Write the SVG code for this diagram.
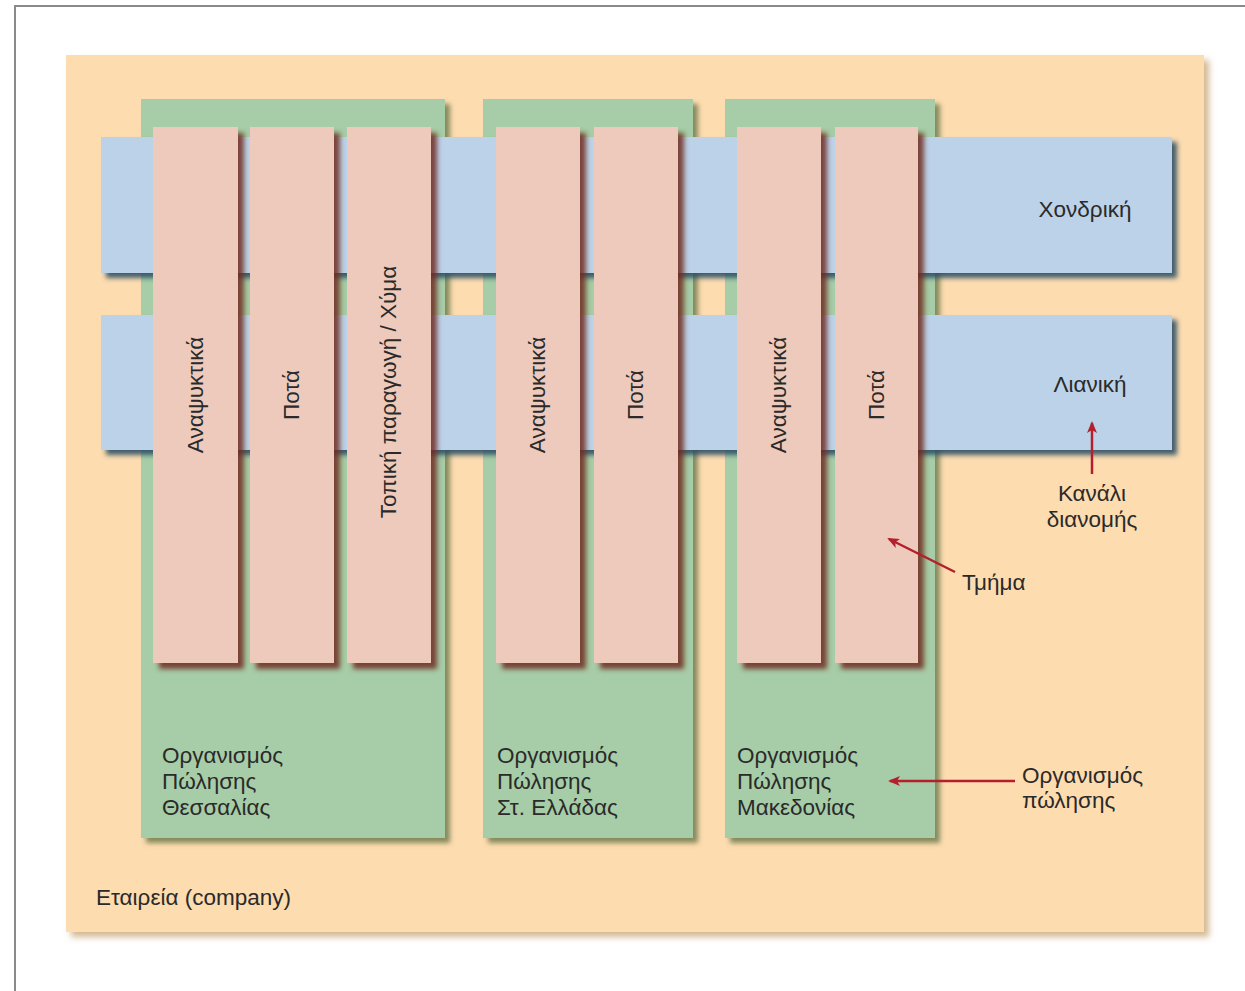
<svg xmlns="http://www.w3.org/2000/svg" width="1245" height="991" viewBox="0 0 1245 991">
  <defs>
    <filter id="shPeach" x="-5%" y="-5%" width="112%" height="112%">
      <feDropShadow dx="5" dy="5" stdDeviation="3" flood-color="#c9a778" flood-opacity="0.8"/>
    </filter>
    <filter id="shGreen" x="-10%" y="-5%" width="125%" height="112%">
      <feDropShadow dx="5" dy="5" stdDeviation="2.5" flood-color="#6f7a4e" flood-opacity="0.85"/>
    </filter>
    <filter id="shBlue" x="-5%" y="-10%" width="112%" height="125%">
      <feDropShadow dx="5" dy="5" stdDeviation="2.5" flood-color="#2f4f63" flood-opacity="0.9"/>
    </filter>
    <filter id="shPink" x="-15%" y="-5%" width="135%" height="112%">
      <feDropShadow dx="6" dy="6" stdDeviation="2.5" flood-color="#6e2a1e" flood-opacity="0.85"/>
    </filter>
    <marker id="arrow" viewBox="0 0 12 10" refX="10" refY="5" markerWidth="12" markerHeight="10" markerUnits="userSpaceOnUse" orient="auto">
      <path d="M0,0 L12,5 L0,10 L3,5 Z" fill="#b51f2c"/>
    </marker>
    <style>
      .txt { font-family: "Liberation Sans", "DejaVu Sans", sans-serif; font-size: 22.5px; fill: #2a2a2a; }
      .peach { fill: #fddcb0; }
      .green { fill: #a6cda7; }
      .blue { fill: #bcd2e8; }
      .pink { fill: #eecabc; }
      .conn { stroke: #b51f2c; stroke-width: 2.5; fill: none; marker-end: url(#arrow); }
    </style>
  </defs>

  <rect x="0" y="0" width="1245" height="991" fill="#ffffff"/>
  <!-- page frame -->
  <path d="M15,991 L15,6 L1245,6" fill="none" stroke="#8a8a8a" stroke-width="2"/>

  <g id="company">
    <rect class="peach" x="66" y="55" width="1138" height="877" filter="url(#shPeach)"/>
    <text class="txt" x="96" y="905">Εταιρεία (company)</text>
  </g>

  <g id="org-thessalia">
    <rect class="green" x="141" y="99" width="304" height="739" filter="url(#shGreen)"/>
    <text class="txt" x="162" y="763">Οργανισμός</text>
    <text class="txt" x="162" y="789">Πώλησης</text>
    <text class="txt" x="162" y="815">Θεσσαλίας</text>
  </g>
  <g id="org-sterea">
    <rect class="green" x="483" y="99" width="210" height="739" filter="url(#shGreen)"/>
    <text class="txt" x="497" y="763">Οργανισμός</text>
    <text class="txt" x="497" y="789">Πώλησης</text>
    <text class="txt" x="497" y="815">Στ. Ελλάδας</text>
  </g>
  <g id="org-makedonia">
    <rect class="green" x="725" y="99" width="210" height="739" filter="url(#shGreen)"/>
    <text class="txt" x="737" y="763">Οργανισμός</text>
    <text class="txt" x="737" y="789">Πώλησης</text>
    <text class="txt" x="737" y="815">Μακεδονίας</text>
  </g>

  <g id="channel-wholesale">
    <rect class="blue" x="101" y="137" width="1071" height="136" filter="url(#shBlue)"/>
    <text class="txt" x="1085" y="217" text-anchor="middle">Χονδρική</text>
  </g>
  <g id="channel-retail">
    <rect class="blue" x="101" y="315" width="1071" height="135" filter="url(#shBlue)"/>
    <text class="txt" x="1090" y="392" text-anchor="middle">Λιανική</text>
  </g>

  <g id="seg-t1">
    <rect class="pink" x="153" y="127" width="85" height="536" filter="url(#shPink)"/>
    <text class="txt" transform="translate(203,395) rotate(-90)" text-anchor="middle">Αναψυκτικά</text>
  </g>
  <g id="seg-t2">
    <rect class="pink" x="250" y="127" width="84" height="536" filter="url(#shPink)"/>
    <text class="txt" transform="translate(299,395) rotate(-90)" text-anchor="middle">Ποτά</text>
  </g>
  <g id="seg-t3">
    <rect class="pink" x="347" y="127" width="84" height="536" filter="url(#shPink)"/>
    <text class="txt" transform="translate(396,392) rotate(-90)" text-anchor="middle">Τοπική παραγωγή / Χύμα</text>
  </g>
  <g id="seg-s1">
    <rect class="pink" x="496" y="127" width="84" height="536" filter="url(#shPink)"/>
    <text class="txt" transform="translate(545,395) rotate(-90)" text-anchor="middle">Αναψυκτικά</text>
  </g>
  <g id="seg-s2">
    <rect class="pink" x="594" y="127" width="84" height="536" filter="url(#shPink)"/>
    <text class="txt" transform="translate(643,395) rotate(-90)" text-anchor="middle">Ποτά</text>
  </g>
  <g id="seg-m1">
    <rect class="pink" x="737" y="127" width="84" height="536" filter="url(#shPink)"/>
    <text class="txt" transform="translate(786,395) rotate(-90)" text-anchor="middle">Αναψυκτικά</text>
  </g>
  <g id="seg-m2">
    <rect class="pink" x="835" y="127" width="83" height="536" filter="url(#shPink)"/>
    <text class="txt" transform="translate(884,395) rotate(-90)" text-anchor="middle">Ποτά</text>
  </g>

  <g id="label-channel">
    <text class="txt" x="1092" y="501" text-anchor="middle">Κανάλι</text>
    <text class="txt" x="1092" y="527" text-anchor="middle">διανομής</text>
  </g>
  <g id="label-segment">
    <text class="txt" x="962" y="590">Τμήμα</text>
  </g>
  <g id="label-org">
    <text class="txt" x="1022" y="783">Οργανισμός</text>
    <text class="txt" x="1022" y="808">πώλησης</text>
  </g>

  <g id="connectors">
    <line class="conn" x1="1092" y1="474" x2="1092" y2="423"/>
    <line class="conn" x1="955" y1="572" x2="889" y2="539"/>
    <line class="conn" x1="1015" y1="781" x2="890" y2="781"/>
  </g>
</svg>
